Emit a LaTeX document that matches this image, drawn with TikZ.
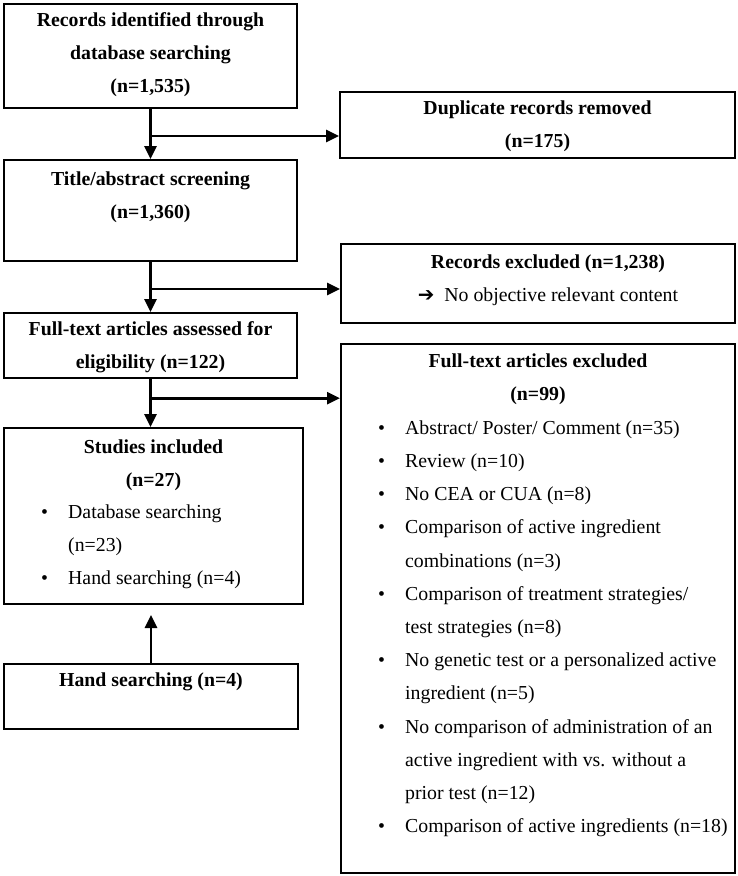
\documentclass[tikz,border=0pt]{standalone}
\usepackage{fontspec}
\setmainfont{Liberation Serif}
\newfontfamily\arrowfont{DejaVu Sans}
\usetikzlibrary{arrows.meta}
\usetikzlibrary{calc}

\tikzset{
  box/.style={draw, line width=2pt, inner sep=0pt, anchor=north west},
  txt/.style={anchor=north, inner sep=0pt, align=center, font=\bfseries},
  lst/.style={anchor=north west, inner sep=0pt, align=left},
  arr/.style={line width=2.6pt, -{Triangle[length=13pt,width=12pt]}},
}
\newcommand{\ft}{\rule{0pt}{23pt}}
\newcommand{\itm}{\makebox[27pt][l]{\textbullet}}
\newcommand{\cnt}{\hspace*{27pt}}

\begin{document}
\fontsize{19.8}{33.2}\selectfont
\begin{tikzpicture}[x=1pt,y=1pt,yscale=-1]
\useasboundingbox (0,0) rectangle (737,876);

% left column
\node[box, minimum width=293pt, minimum height=104pt] (ident) at (3,3) {};
\node[box, minimum width=293pt, minimum height=101pt] (title) at (3,159) {};
\node[box, minimum width=293pt, minimum height=65pt] (full) at (3,312) {};
\node[box, minimum width=299pt, minimum height=176pt] (studies) at (3,427) {};
\node[box, minimum width=294pt, minimum height=65pt] (hand) at (3,663) {};

% right column
\node[box, minimum width=395pt, minimum height=66pt] (dup) at (339,91) {};
\node[box, minimum width=394pt, minimum height=79pt] (excl) at (340,243) {};
\node[box, minimum width=394pt, minimum height=529pt] (fexcl) at (340,343) {};

% Text Node (yshift > 0 moves down here, yscale=-1)
\node[txt] (identtxt) at (ident.north) {\ft Records identified through\\database searching\\(n=1,535)};
\node[txt] (titletxt) at ([yshift=3pt]title.north) {\ft Title/abstract screening\\(n=1,360)};
\node[txt] (fulltxt) at (full.north) {\ft Full-text articles assessed for\\eligibility (n=122)};
\node[txt] (studiestxt) at ([yshift=3pt]studies.north) {\ft Studies included\\(n=27)};
\node[lst] (studieslst) at (41,495) {\ft\itm Database searching\\\cnt (n=23)\\\itm Hand searching (n=4)};
\node[txt] (handtxt) at (hand.north) {\ft Hand searching (n=4)};
\node[txt] (duptxt) at (dup.north) {\ft Duplicate records removed\\(n=175)};
\node[txt] (excltxt) at ([xshift=10pt,yshift=2pt]excl.north) {\ft Records excluded (n=1,238)\\\mdseries{\arrowfont\char"2794}~~No objective relevant content};
\node[txt] (fexcltxt) at ([yshift=1pt]fexcl.north) {\ft Full-text articles excluded\\(n=99)};
\node[lst] (fexcllst) at (378,411) {\ft\itm Abstract/ Poster/ Comment (n=35)\\
\itm Review (n=10)\\
\itm No CEA or CUA (n=8)\\
\itm Comparison of active ingredient\\
\cnt combinations (n=3)\\
\itm Comparison of treatment strategies/\\
\cnt test strategies (n=8)\\
\itm No genetic test or a personalized active\\
\cnt ingredient (n=5)\\
\itm No comparison of administration of an\\
\cnt active ingredient with vs. without a\\
\cnt prior test (n=12)\\
\itm Comparison of active ingredients (n=18)};

% branch points
\coordinate (b1) at ($(ident.south)!0.54!(title.north)$);
\coordinate (b2) at ($(title.south)!0.54!(full.north)$);
\coordinate (b3) at ($(full.south)!0.4!(full.south |- studies.north)$);

% arrows
\draw[arr] (ident.south) -- (title.north);
\draw[arr] (b1) -- (b1 -| dup.west);
\draw[arr] (title.south) -- (full.north);
\draw[arr] (b2) -- (b2 -| excl.west);
\draw[arr] (full.south) -- (full.south |- studies.north);
\draw[arr] (b3) -- (b3 -| fexcl.west);
\draw[arr, shorten >=10pt] (hand.north) -- (hand.north |- studies.south);

\end{tikzpicture}
\end{document}
